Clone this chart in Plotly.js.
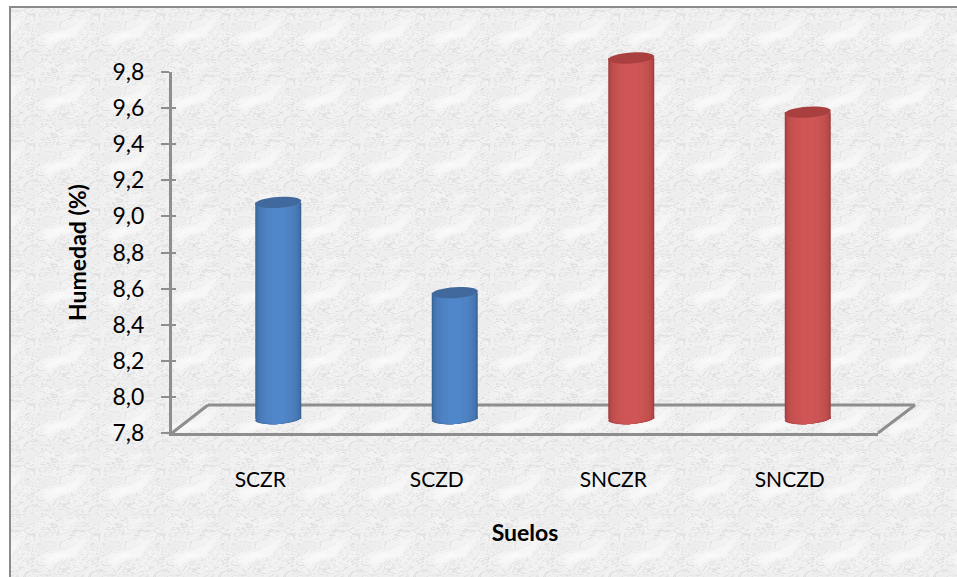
<!DOCTYPE html>
<html lang="es">
<head>
<meta charset="utf-8">
<title>Humedad de suelos</title>
<script src="https://cdn.plot.ly/plotly-3.0.1.min.js"></script>
<style>
  html, body { margin: 0; padding: 0; background: #fff; overflow: hidden; }
  #marble {
    position: absolute; left: 9px; top: 6px; right: 0; bottom: 0;
    border-left: 2px solid #8a8a8a; border-top: 2px solid #8a8a8a;
    background-color: #f0f0f0;
    background-size: 65px 65px;
  }
  #chart { position: absolute; left: 0; top: 0; width: 957px; height: 577px; }
</style>
</head>
<body>
<div id="marble"></div>
<div id="chart"></div>
<script>
// Soil moisture readings
const soils = ['SCZR', 'SCZD', 'SNCZR', 'SNCZD'];
const moisture = [9.0, 8.5, 9.8, 9.5];
const yTicks = [7.8, 8.0, 8.2, 8.4, 8.6, 8.8, 9.0, 9.2, 9.4, 9.6, 9.8];
const yTickText = ['7,8', '8,0', '8,2', '8,4', '8,6', '8,8', '9,0', '9,2', '9,4', '9,6', '9,8'];
const groups = [0, 0, 1, 1];

// Cylinder shading per group: side edge, centre, lid
const edgeRGB = [[58, 100, 150], [163, 62, 62]];
const centreRGB = [[80, 134, 202], [208, 86, 86]];
const lidRGB = ['#41699d', '#a9403f'];

const W = 957, H = 577;
const px = x => x / W;
const py = y => 1 - y / H;

const AXIS = '#8e8e8e';
const FONT = 'Lato, sans-serif';
const BASE = 7.8;

// Marble backdrop: sheared noise turned into thin grey veins, tiled every 65px
function marbleTile() {
  const table = [];
  for (let i = 0; i <= 100; i++) {
    const t = i / 100;
    const vein = 0.09 * Math.exp(-Math.pow((t - 0.5) / 0.01, 2)) + 0.06 * Math.exp(-Math.pow((t - 0.41) / 0.01, 2)) + 0.05 * Math.exp(-Math.pow((t - 0.58) / 0.01, 2));
    table.push((0.95 + 0.1 * (t - 0.5) - vein).toFixed(3));
  }
  const tv = table.join(' ');
  const svg = "<svg xmlns='http://www.w3.org/2000/svg' width='65' height='65'>" +
    "<defs><filter id='m' x='0' y='0' width='65' height='65' filterUnits='userSpaceOnUse' color-interpolation-filters='sRGB'>" +
    "<feTurbulence type='fractalNoise' baseFrequency='0.0308 0.0462' numOctaves='5' seed='23' stitchTiles='stitch'/>" +
    "<feColorMatrix type='matrix' values='1 0 0 0 0 1 0 0 0 0 1 0 0 0 0 0 0 0 0 1'/>" +
    "<feComponentTransfer><feFuncR type='table' tableValues='" + tv + "'/><feFuncG type='table' tableValues='" + tv + "'/><feFuncB type='table' tableValues='" + tv + "'/></feComponentTransfer>" +
    "</filter><rect id='r' width='65' height='65' filter='url(#m)'/></defs>" +
    "<g transform='matrix(1 0 -1 1 0 0)'>" +
    "<use href='#r' x='0'/><use href='#r' x='65'/>" +
    "</g></svg>";
  return 'url("data:image/svg+xml,' + encodeURIComponent(svg) + '")';
}
document.getElementById('marble').style.backgroundImage = marbleTile();

// Plot geometry in pixels; the bars sit half way into the floor depth
const plotLeft = 172, plotRight = 878, plotBottom = 433, plotTop = 72;
const depthX = 36, depthY = 28;
const barDX = depthX / 2, barDY = depthY / 2;
const unitY = (plotBottom - plotTop) / 2;
const unitX = (plotRight - plotLeft) / soils.length;
const barHalf = 23 / unitX;
const extraTop = 0.1, extraBottom = 0.05;

function mix(a, b, t) {
  return 'rgb(' + a.map((v, i) => Math.round(v + (b[i] - v) * t)).join(',') + ')';
}

// Concentric bars give the rounded shading of each cylinder
const bands = [1, 0.94, 0.87, 0.78, 0.66, 0.5, 0.3];
const traces = bands.map((f, k) => ({
  type: 'bar',
  x: soils.map((_, i) => i),
  y: moisture.map(v => v - BASE),
  base: BASE,
  width: 2 * barHalf * f,
  xaxis: 'x2', yaxis: 'y2',
  marker: {
    color: groups.map(g => mix(edgeRGB[g], centreRGB[g], Math.sqrt(k / (bands.length - 1)))),
    line: { width: 0 }
  },
  hoverinfo: 'skip',
  showlegend: false
}));

// Carries the labelled axes and the inner half of the tick marks
traces.push({ type: 'scatter', mode: 'none', x: soils, y: moisture, xaxis: 'x', yaxis: 'y', hoverinfo: 'skip', showlegend: false });
traces.push({ type: 'scatter', mode: 'none', x: soils, y: moisture, xaxis: 'x', yaxis: 'y3', hoverinfo: 'skip', showlegend: false });

// Slightly tilted ellipse outline in bar-axis units
function ellipse(cx, cy, halfX, halfPx, tiltPx) {
  const pts = [];
  for (let a = 0; a < 32; a++) {
    const t = a / 32 * 2 * Math.PI;
    pts.push((cx + halfX * Math.cos(t)) + ',' + (cy + (halfPx * Math.sin(t) + tiltPx * Math.cos(t)) / unitY));
  }
  return 'M' + pts.join('L') + 'Z';
}

const floorLine = (x0, y0, x1, y1) => ({
  type: 'line', xref: 'paper', yref: 'paper', layer: 'below',
  x0: px(x0), y0: py(y0), x1: px(x1), y1: py(y1),
  line: { color: AXIS, width: 3 }
});

const shapes = [
  floorLine(plotLeft, plotBottom, plotLeft + depthX, plotBottom - depthY),
  floorLine(plotLeft + depthX, plotBottom - depthY, plotRight + depthX + 1, plotBottom - depthY),
  floorLine(plotRight, plotBottom, plotRight + depthX + 1, plotBottom - depthY)
];

moisture.forEach((v, i) => {
  const g = groups[i];
  // Rounded foot of the cylinder
  bands.forEach((f, k) => {
    shapes.push({
      type: 'path', xref: 'x2', yref: 'y2', layer: 'below',
      path: ellipse(i, BASE, barHalf * f, 5, 1.5),
      fillcolor: mix(edgeRGB[g], centreRGB[g], Math.sqrt(k / (bands.length - 1))),
      line: { width: 0 }
    });
  });
  // Lid
  shapes.push({
    type: 'path', xref: 'x2', yref: 'y2', layer: 'above',
    path: ellipse(i, v, barHalf, 5.5, 1.5),
    fillcolor: lidRGB[g],
    line: { width: 0 }
  });
});

const layout = {
  width: W, height: H,
  margin: { l: 0, r: 0, t: 0, b: 0 },
  paper_bgcolor: 'rgba(0,0,0,0)',
  plot_bgcolor: 'rgba(0,0,0,0)',
  barmode: 'overlay',
  showlegend: false,
  font: { family: FONT, color: '#000' },
  xaxis: {
    domain: [px(plotLeft), px(plotRight)],
    type: 'category', categoryarray: soils, categoryorder: 'array',
    range: [-0.5, 3.5], fixedrange: true,
    showgrid: false, zeroline: false,
    showline: true, linecolor: AXIS, linewidth: 3,
    ticks: '', ticklabelstandoff: 26,
    tickfont: { family: FONT, size: 21, color: '#000' },
    title: { text: '<b>Suelos</b>', font: { family: FONT, size: 23, color: '#000' }, standoff: 35 },
    anchor: 'y'
  },
  yaxis: {
    domain: [py(plotBottom), py(plotTop)],
    range: [7.8, 9.8], fixedrange: true,
    tickmode: 'array', tickvals: yTicks, ticktext: yTickText,
    showgrid: false, zeroline: false,
    showline: true, linecolor: AXIS, linewidth: 3,
    ticks: 'outside', ticklen: 8, tickwidth: 2, tickcolor: AXIS,
    ticklabelstandoff: 12,
    tickfont: { family: FONT, size: 23, color: '#000' },
    title: { text: '<b>Humedad (%)</b>', font: { family: FONT, size: 23, color: '#000' }, standoff: 20 },
    anchor: 'x'
  },
  yaxis3: {
    domain: [py(plotBottom), py(plotTop)],
    overlaying: 'y', anchor: 'x',
    range: [7.8, 9.8], fixedrange: true,
    tickmode: 'array', tickvals: yTicks, showticklabels: false,
    showgrid: false, zeroline: false, showline: false,
    ticks: 'inside', ticklen: 4, tickwidth: 2, tickcolor: AXIS
  },
  xaxis2: {
    domain: [px(plotLeft + barDX), px(plotRight + barDX)],
    type: 'linear', range: [-0.5, 3.5], visible: false, fixedrange: true, anchor: 'y2'
  },
  yaxis2: {
    domain: [py(plotBottom - barDY + extraBottom * unitY), py(plotTop - barDY - extraTop * unitY)],
    range: [BASE - extraBottom, 9.8 + extraTop], visible: false, fixedrange: true, anchor: 'x2'
  },
  shapes: shapes
};

Plotly.newPlot('chart', traces, layout, { displayModeBar: false, staticPlot: true });
</script>
</body>
</html>
